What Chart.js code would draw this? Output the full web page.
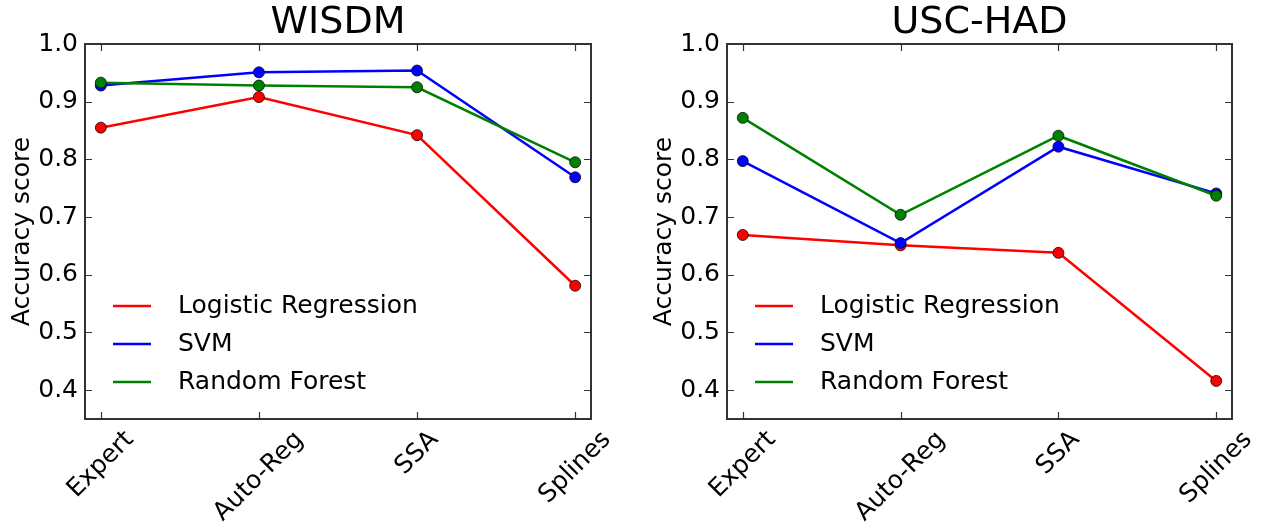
<!DOCTYPE html>
<html><head><meta charset="utf-8">
<script src="https://cdn.jsdelivr.net/npm/chart.js@4.4.1/dist/chart.umd.min.js"></script>
<style>
html,body{margin:0;padding:0;background:#fff;width:1268px;height:524px;overflow:hidden;}
.box{position:absolute;top:0;height:524px;}
#b1{left:0;width:634px;}
#b2{left:642px;width:626px;}
</style></head><body>
<div class="box" id="b1"><canvas id="c1"></canvas></div>
<div class="box" id="b2"><canvas id="c2"></canvas></div>
<script>
const categories = ['Expert','Auto-Reg','SSA','Splines'];
const seriesNames = ['Logistic Regression','SVM','Random Forest'];
const seriesColors = ['#ff0000','#0000ff','#008000'];
const yTickValues = [0.4,0.5,0.6,0.7,0.8,0.9,1.0];
const wisdmLR  = [0.855,0.908,0.842,0.581];
const wisdmSVM = [0.928,0.951,0.954,0.769];
const wisdmRF  = [0.933,0.928,0.925,0.795];
const uscLR  = [0.669,0.651,0.638,0.416];
const uscSVM = [0.797,0.655,0.822,0.741];
const uscRF  = [0.872,0.704,0.841,0.737];

const FONT = '"DejaVu Sans", "Liberation Sans", sans-serif';
const FS = 25;

const mplPlugin = {
  id: 'mpl',
  afterDatasetsDraw(chart) {
    const ctx = chart.ctx, ca = chart.chartArea;
    const xs = chart.scales.x, ys = chart.scales.y;
    ctx.save();
    // inner ticks
    ctx.strokeStyle = '#333';
    ctx.lineWidth = 1.2;
    ctx.beginPath();
    yTickValues.forEach(v => {
      const y = Math.round(ys.getPixelForValue(v)) + 0.5;
      ctx.moveTo(ca.left, y); ctx.lineTo(ca.left + 7, y);
      ctx.moveTo(ca.right, y); ctx.lineTo(ca.right - 7, y);
    });
    categories.forEach((c, i) => {
      const x = Math.round(xs.getPixelForValue(i)) + 0.5;
      ctx.moveTo(x, ca.bottom); ctx.lineTo(x, ca.bottom - 7);
      ctx.moveTo(x, ca.top); ctx.lineTo(x, ca.top + 7);
    });
    ctx.stroke();
    // frame
    ctx.strokeStyle = '#333';
    ctx.lineWidth = 2;
    ctx.strokeRect(ca.left, ca.top, ca.right - ca.left, ca.bottom - ca.top);
    // x tick labels rotated 45deg, centred like matplotlib
    ctx.fillStyle = '#000';
    ctx.font = FS + 'px ' + FONT;
    categories.forEach((c, i) => {
      const x = xs.getPixelForValue(i);
      const w = ctx.measureText(c).width;
      const h = FS;
      const H = (w + h) * Math.SQRT1_2;
      const top = ca.bottom + 8;
      ctx.save();
      ctx.translate(x, top + H / 2);
      ctx.rotate(-Math.PI / 4);
      ctx.textAlign = 'center';
      ctx.textBaseline = 'alphabetic';
      ctx.fillText(c, 0, 0.26 * FS);
      ctx.restore();
    });
    // legend
    ctx.textAlign = 'left';
    ctx.textBaseline = 'middle';
    chart.data.datasets.forEach((ds, k) => {
      const y = ca.bottom - 113 + k * 38;
      ctx.strokeStyle = ds.borderColor;
      ctx.lineWidth = 2.5;
      ctx.beginPath();
      ctx.moveTo(ca.left + 28, y); ctx.lineTo(ca.left + 66, y);
      ctx.stroke();
      ctx.fillStyle = '#000';
      ctx.fillText(ds.label, ca.left + 93, y);
    });
    ctx.restore();
  }
};

function makeChart(id, title, values, padRight) {
  const datasets = values.map((vals, k) => ({
    label: seriesNames[k],
    data: vals.map((v, i) => ({x: i, y: v})),
    borderColor: seriesColors[k],
    backgroundColor: seriesColors[k],
    pointBackgroundColor: seriesColors[k],
    pointBorderColor: 'rgba(0,0,0,0.75)',
    pointBorderWidth: 1,
    pointRadius: 5.5,
    borderWidth: 2.5,
    tension: 0,
    order: 3 - k
  }));
  return new Chart(document.getElementById(id), {
    type: 'line',
    data: {datasets},
    options: {
      responsive: true,
      maintainAspectRatio: false,
      animation: false,
      devicePixelRatio: 1,
      layout: {padding: {left: 0, right: padRight, top: 0, bottom: 0}},
      plugins: {
        legend: {display: false},
        tooltip: {enabled: false},
        title: {
          display: true, text: title, fullSize: false, color: '#000',
          font: {family: FONT, size: 38, weight: 'normal', lineHeight: 1},
          padding: {top: 4, bottom: 2}
        }
      },
      scales: {
        x: {
          type: 'linear', min: -0.1, max: 3.1,
          afterBuildTicks: s => { s.ticks = categories.map((c, i) => ({value: i})); },
          ticks: {display: false},
          grid: {display: false, drawTicks: false},
          border: {display: false},
          afterFit: s => { s.height = 105; }
        },
        y: {
          min: 0.35, max: 1.0,
          afterBuildTicks: s => { s.ticks = yTickValues.map(v => ({value: v})); },
          ticks: {
            color: '#000', padding: 7, autoSkip: false,
            font: {family: FONT, size: FS},
            callback: v => Number(v).toFixed(1)
          },
          grid: {display: false, drawTicks: false},
          border: {display: false},
          title: {
            display: true, text: 'Accuracy score', color: '#000',
            font: {family: FONT, size: FS, lineHeight: 1.2},
            padding: {top: 7, bottom: 0}
          },
          afterFit: s => { s.width = 85; }
        }
      }
    },
    plugins: [mplPlugin]
  });
}

makeChart('c1', 'WISDM', [wisdmLR, wisdmSVM, wisdmRF], 43);
makeChart('c2', 'USC-HAD', [uscLR, uscSVM, uscRF], 36);
</script>
</body></html>
